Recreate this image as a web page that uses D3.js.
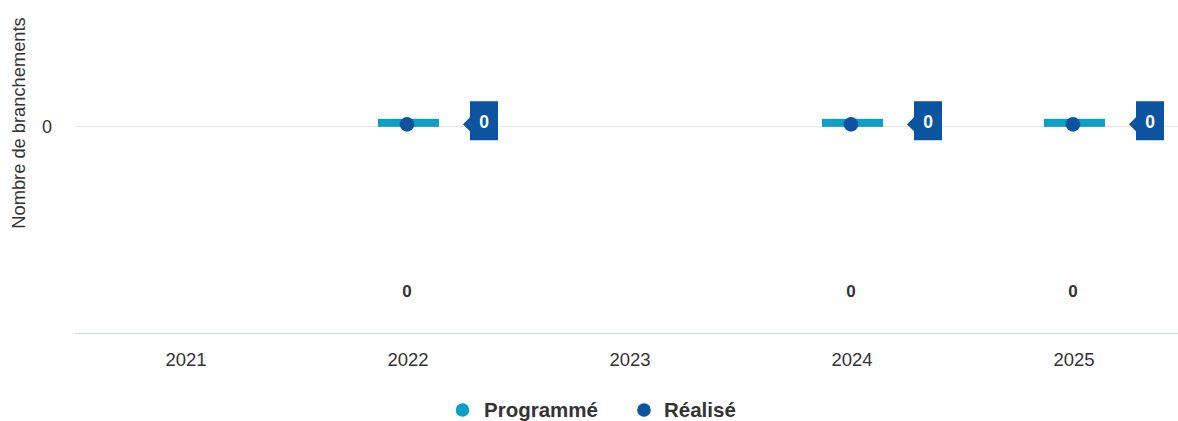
<!DOCTYPE html>
<html>
<head>
<meta charset="utf-8">
<script src="https://cdn.jsdelivr.net/npm/d3@7"></script>
<style>
  html, body { margin: 0; padding: 0; background: #fff; }
  svg { display: block; font-family: "Liberation Sans", Arial, Helvetica, sans-serif; }
</style>
</head>
<body>
<svg id="chart" width="1178" height="421"></svg>
<script>
const categories = ["2021", "2022", "2023", "2024", "2025"];
const programme = [null, 0, null, 0, 0];
const realise = [null, 0, null, 0, 0];
const totals = [null, 0, null, 0, 0];
const yTicks = [0];
const seriesNames = ["Programmé", "Réalisé"];
const yTitle = "Nombre de branchements";

const colProg = "#0b9fc8";
const colReal = "#0c54a0";
const textCol = "#333333";

const svg = d3.select("#chart");
const W = 1178, H = 421;
const plotLeft = 75, plotRight = 1185, plotTop = 0, plotBottom = 333.5;

const x = d3.scaleBand().domain(categories).range([plotLeft, plotRight]).padding(0);
const y = d3.scaleLinear().domain([-1.65, 1]).range([plotBottom, plotTop]);

// gridlines
svg.append("g").selectAll("line").data(yTicks).join("line")
  .attr("x1", plotLeft).attr("x2", W)
  .attr("y1", d => Math.round(y(d)) + 0.5).attr("y2", d => Math.round(y(d)) + 0.5)
  .attr("stroke", "#e6e6e6").attr("stroke-width", 1);

// y axis labels
svg.append("g").selectAll("text").data(yTicks).join("text")
  .attr("x", 52).attr("y", d => y(d) + 7)
  .attr("text-anchor", "end").attr("font-size", 18).attr("fill", textCol)
  .text(d => d);

// y title
svg.append("text")
  .attr("transform", `translate(25,123) rotate(-90)`)
  .attr("text-anchor", "middle").attr("font-size", 18.3).attr("fill", textCol)
  .text(yTitle);

// x axis line
svg.append("line")
  .attr("x1", plotLeft).attr("x2", W)
  .attr("y1", plotBottom).attr("y2", plotBottom)
  .attr("stroke", "#ccd6eb").attr("stroke-width", 1);

// x axis labels
const xAxis = d3.axisBottom(x).tickSize(0).tickPadding(0);
const gx = svg.append("g").attr("transform", `translate(0,${plotBottom})`).call(xAxis);
gx.select(".domain").remove();
gx.attr("font-family", null);
gx.selectAll("text").attr("font-size", 18.5).attr("fill", textCol)
  .attr("dy", null).attr("y", 32.5);

// programme bars
const progData = categories.map((c, i) => ({c, v: programme[i]})).filter(d => d.v !== null);
svg.append("g").selectAll("rect").data(progData).join("rect")
  .attr("x", d => x(d.c) + x.bandwidth() / 2 - 30)
  .attr("y", d => y(d.v) - 7)
  .attr("width", 61).attr("height", 8)
  .attr("fill", colProg);

// realise dots
const realData = categories.map((c, i) => ({c, v: realise[i]})).filter(d => d.v !== null);
svg.append("g").selectAll("circle").data(realData).join("circle")
  .attr("cx", d => x(d.c) + x.bandwidth() / 2 - 1)
  .attr("cy", d => y(d.v) - 1.5)
  .attr("r", 7.3)
  .attr("fill", colReal);

// callout labels
const callouts = svg.append("g").selectAll("g").data(realData).join("g")
  .attr("transform", d => `translate(${x(d.c) + x.bandwidth() / 2},${y(d.v) - 1.5})`);
callouts.append("path")
  .attr("d", "M55,0 L62,-7 L62,-23 L90,-23 L90,16 L62,16 L62,7 Z")
  .attr("fill", colReal);
callouts.append("text")
  .attr("x", 76).attr("y", 3.5)
  .attr("text-anchor", "middle").attr("font-size", 17.5).attr("font-weight", "bold")
  .attr("fill", "#fff")
  .text(d => d.v);

// bottom totals
const totData = categories.map((c, i) => ({c, v: totals[i]})).filter(d => d.v !== null);
svg.append("g").selectAll("text").data(totData).join("text")
  .attr("x", d => x(d.c) + x.bandwidth() / 2 - 1)
  .attr("y", 296.5)
  .attr("text-anchor", "middle").attr("font-size", 17).attr("font-weight", "bold")
  .attr("fill", textCol)
  .text(d => d.v);

// legend
const legendItems = [
  {name: seriesNames[0], color: colProg, cx: 462.5, tx: 484},
  {name: seriesNames[1], color: colReal, cx: 644, tx: 664}
];
const lg = svg.append("g").selectAll("g").data(legendItems).join("g");
lg.append("circle").attr("cx", d => d.cx).attr("cy", 410).attr("r", 6.8).attr("fill", d => d.color);
lg.append("text").attr("x", d => d.tx).attr("y", 417)
  .attr("font-size", 20.5).attr("font-weight", "bold").attr("fill", textCol)
  .text(d => d.name);
</script>
</body>
</html>
